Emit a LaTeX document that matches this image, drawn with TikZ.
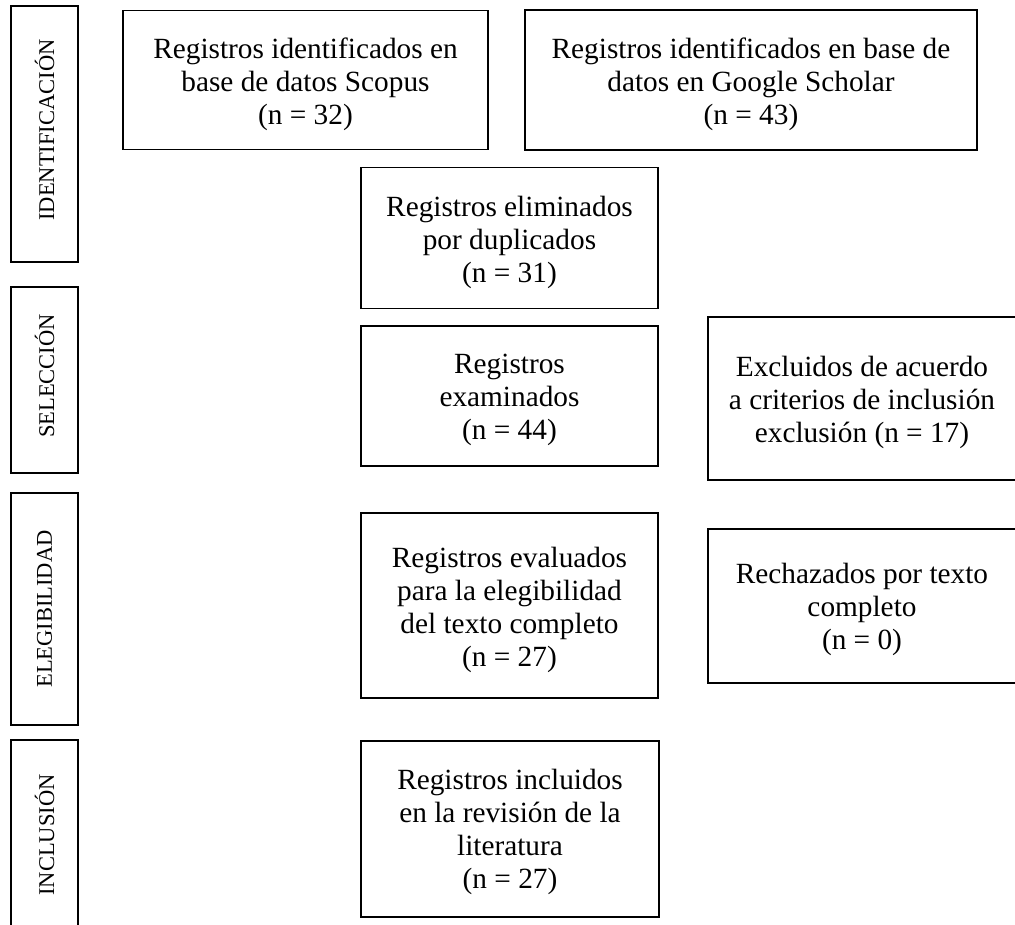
\documentclass[tikz,border=0pt]{standalone}
\usepackage{fontspec}
\setmainfont{Liberation Serif}
\begin{document}
\begin{tikzpicture}[x=1pt,y=-1pt,
  box/.style={draw, line width=1.5pt, inner sep=0pt},
  txt/.style={align=center, inner sep=0pt, font=\fontsize{29.3}{33}\selectfont},
  side/.style={draw, line width=1.5pt, inner sep=0pt, minimum width=67pt},
  sidetxt/.style={rotate=90, inner sep=0pt, font=\fontsize{22.5}{25}\selectfont}]
\useasboundingbox (0,0) rectangle (1015,924);
% side labels
\node[side, minimum height=256pt] (ident) at (44.5,134) {};
\node[sidetxt] (identT) at ([yshift=4pt]ident.center) {IDENTIFICACIÓN};
\node[side, minimum height=186pt] (selec) at (44.5,380) {};
\node[sidetxt] (selecT) at ([yshift=4pt]selec.center) {SELECCIÓN};
\node[side, minimum height=232pt] (eleg) at (44.5,609) {};
\node[sidetxt] (elegT) at (eleg.center) {ELEGIBILIDAD};
\node[side, minimum height=190pt] (incl) at (44.5,835) {};
\node[sidetxt] (inclT) at (incl.center) {INCLUSIÓN};
% main boxes
\node[box, minimum width=365pt, minimum height=139pt] (scopus) at (305.5,80) {};
\node[txt] (scopusT) at ([yshift=-4pt]scopus.center)
  {Registros identificados en\\base de datos Scopus\\(n = 32)};
\node[box, minimum width=452pt, minimum height=140pt] (scholar) at (751,80) {};
\node[txt] (scholarT) at ([yshift=-4pt]scholar.center)
  {Registros identificados en base de\\datos en Google Scholar\\(n = 43)};
\node[box, minimum width=297pt, minimum height=141pt] (dup) at (509.5,238) {};
\node[txt] (dupT) at ([yshift=-4pt]dup.center)
  {Registros eliminados\\por duplicados\\(n = 31)};
\node[box, minimum width=297pt, minimum height=140pt] (exam) at (509.5,396) {};
\node[txt] (examT) at ([yshift=-4pt]exam.center)
  {Registros\\examinados\\(n = 44)};
\node[box, minimum width=308pt, minimum height=163pt] (excl) at (862,398.5) {};
\node[txt] (exclT) at ([yshift=-4pt]excl.center)
  {Excluidos de acuerdo\\a criterios de inclusión\\exclusión (n = 17)};
\node[box, minimum width=297pt, minimum height=185pt] (eval) at (509.5,605.5) {};
\node[txt] (evalT) at ([yshift=-4pt]eval.center)
  {Registros evaluados\\para la elegibilidad\\del texto completo\\(n = 27)};
\node[box, minimum width=308pt, minimum height=154pt] (rech) at (862,606) {};
\node[txt] (rechT) at ([yshift=-3pt]rech.center)
  {Rechazados por texto\\completo\\(n = 0)};
\node[box, minimum width=298pt, minimum height=176pt] (inc) at (510,829) {};
\node[txt] (incT) at ([yshift=-3pt]inc.center)
  {Registros incluidos\\en la revisión de la\\literatura\\(n = 27)};
\end{tikzpicture}
\end{document}
